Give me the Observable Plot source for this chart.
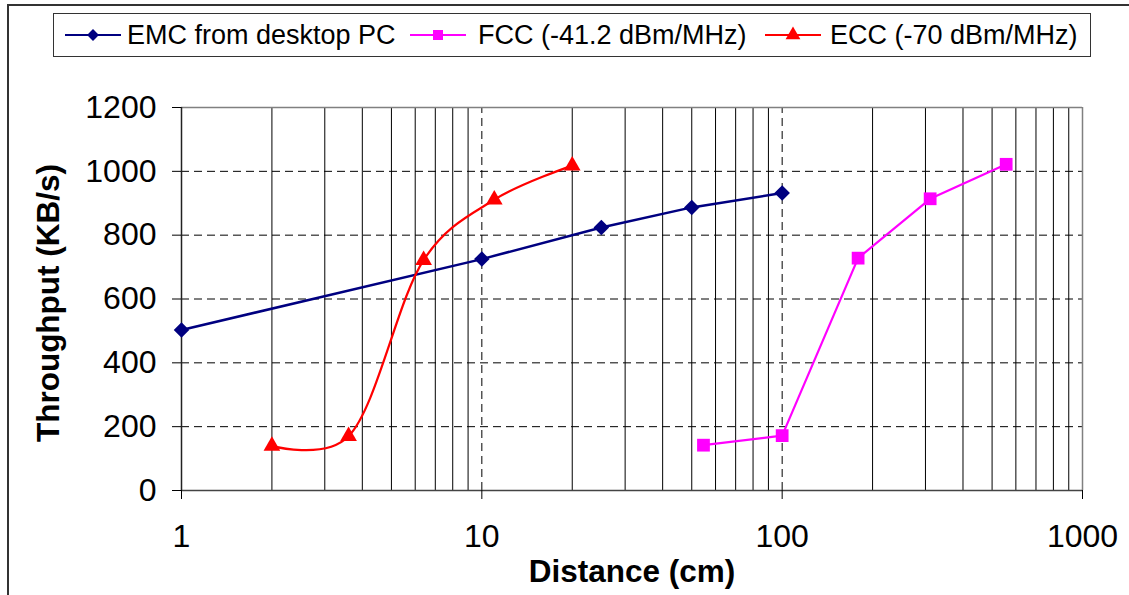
<!DOCTYPE html>
<html>
<head>
<meta charset="utf-8">
<script src="https://cdn.jsdelivr.net/npm/d3@7"></script>
<script src="https://cdn.jsdelivr.net/npm/@observablehq/plot@0.6"></script>
<style>
  html, body { margin: 0; padding: 0; background: #fff; overflow: hidden; }
  #wrap { position: relative; width: 1129px; height: 595px; font-family: "Liberation Sans", Arial, sans-serif; }
  #chart { position: absolute; left: 0; top: 0; }
  #border { position: absolute; left: 7px; top: 4px; width: 1200px; height: 700px; border-top: 2px solid #333; border-left: 2px solid #333; z-index: 2; pointer-events: none; }
  #legend { position: absolute; left: 53px; top: 13px; width: 1038px; height: 44px; border: 1px solid #333; background: #fff; z-index: 3; box-sizing: border-box; }
  .sw { position: absolute; }
  .lt { position: absolute; transform: translateY(-50%); font-size: 27px; white-space: nowrap; color: #000; line-height: 1; }
</style>
</head>
<body>
<div id="wrap">
  <div id="chart"></div>
  <div id="border"></div>
  <div id="legend"></div>
</div>
<script>
// ---- data ----
const seriesNames = ["EMC from desktop PC", "FCC (-41.2 dBm/MHz)", "ECC (-70 dBm/MHz)"];
const seriesColors = ["#000080", "#FF00FF", "#FF0000"];
const seriesSymbols = ["diamond2", "square", "triangle"];

const emcX = [1, 10, 25, 50, 100];
const emcY = [503, 725, 824, 887, 932];

const fccX = [54.7, 100, 179, 311, 557];
const fccY = [142, 172, 728, 914, 1022];

const eccX = [2, 3.6, 6.4, 11, 20];
const eccY = [140, 170, 722, 911, 1018];

const xTicks = [1, 10, 100, 1000];
const yTicks = [0, 200, 400, 600, 800, 1000, 1200];
const xMinor = [2, 3, 4, 5, 6, 7, 8, 9, 20, 30, 40, 50, 60, 70, 80, 90, 200, 300, 400, 500, 600, 700, 800, 900];
const xMajorInner = [10, 100];
const yGridInner = [200, 400, 600, 800, 1000];

const xLabel = "Distance (cm)";
const yLabel = "Throughput (KB/s)";

// ---- tables ----
const toRows = (xs, ys) => xs.map((x, i) => ({x, y: ys[i]}));
const emc = toRows(emcX, emcY);
const fcc = toRows(fccX, fccY);
const ecc = toRows(eccX, eccY);

const xDom = [xTicks[0], xTicks[xTicks.length - 1]];
const yDom = [yTicks[0], yTicks[yTicks.length - 1]];

const chart = Plot.plot({
  width: 1129,
  height: 595,
  marginLeft: 181,
  marginRight: 47,
  marginTop: 107,
  marginBottom: 105,
  style: {fontFamily: "'Liberation Sans', Arial, sans-serif", fontSize: "32px", color: "#000", background: "transparent", overflow: "visible"},
  x: {type: "log", domain: xDom},
  y: {domain: yDom},
  marks: [
    Plot.ruleX(xMinor, {y1: yDom[0], y2: yDom[1], stroke: "#000", strokeWidth: 1}),
    Plot.ruleX(xMajorInner, {y1: yDom[0], y2: yDom[1], stroke: "#000", strokeWidth: 1, strokeDasharray: "8,5"}),
    Plot.ruleY(yGridInner, {x1: xDom[0], x2: xDom[1], stroke: "#000", strokeWidth: 1, strokeDasharray: "8,5"}),
    Plot.ruleY([yDom[1]], {x1: xDom[0], x2: xDom[1], stroke: "#808080", strokeWidth: 1.5}),
    Plot.ruleX([xDom[1]], {y1: yDom[0], y2: yDom[1], stroke: "#808080", strokeWidth: 1.5}),
    Plot.ruleY([yDom[0]], {x1: xDom[0], x2: xDom[1], stroke: "#444", strokeWidth: 1.5}),
    Plot.ruleX([xDom[0]], {y1: yDom[0], y2: yDom[1], stroke: "#222", strokeWidth: 1.5}),
    Plot.axisX({ticks: xTicks, tickFormat: d => String(d), tickSize: 9, tickPadding: 25, label: null, fontSize: 32}),
    Plot.axisY({ticks: yTicks, tickFormat: d => String(d), tickSize: 9, tickPadding: 16, label: null, fontSize: 32}),
    Plot.line(emc, {x: "x", y: "y", stroke: seriesColors[0], strokeWidth: 2.5}),
    Plot.line(fcc, {x: "x", y: "y", stroke: seriesColors[1], strokeWidth: 2.2}),
    Plot.line(ecc, {x: "x", y: "y", stroke: seriesColors[2], strokeWidth: 2.2, curve: d3.curveCatmullRom.alpha(0.2)}),
    Plot.dot(emc, {x: "x", y: "y", symbol: seriesSymbols[0], r: 7, fill: seriesColors[0], stroke: "none"}),
    Plot.dot(fcc, {x: "x", y: "y", symbol: seriesSymbols[1], r: 7.2, fill: seriesColors[1], stroke: "none"}),
    Plot.dot(ecc, {x: "x", y: "y", symbol: seriesSymbols[2], r: 6.2, fill: seriesColors[2], stroke: "none"}),
    Plot.text([yLabel], {frameAnchor: "left", dx: -133, dy: 4, rotate: -90, textAnchor: "middle", lineAnchor: "middle", fontSize: 31.5, fontWeight: "bold", fill: "#000"}),
    Plot.text([xLabel], {frameAnchor: "bottom", dy: 81, textAnchor: "middle", lineAnchor: "middle", fontSize: 31.5, fontWeight: "bold", fill: "#000"})
  ]
});
document.getElementById("chart").appendChild(chart);

// ---- legend ----
const legend = document.getElementById("legend");
const legLeft = 53, legTop = 13, legMid = 35;
const swatchX = [65, 410, 765];
const textX = [127, 478, 830];
const symMap = {diamond2: d3.symbolDiamond2, square: d3.symbolSquare, triangle: d3.symbolTriangle};
const symSize = {diamond2: 90, square: 100, triangle: 95};
seriesNames.forEach((name, i) => {
  const w = 56;
  const svg = d3.create("svg").attr("width", w).attr("height", 20).attr("class", "sw")
    .style("left", (swatchX[i] - legLeft - 1) + "px").style("top", (legMid - 10 - legTop - 1) + "px");
  svg.append("line").attr("x1", 0).attr("x2", w).attr("y1", 10).attr("y2", 10)
    .attr("stroke", seriesColors[i]).attr("stroke-width", 2);
  svg.append("path").attr("transform", `translate(${w / 2},10)`)
    .attr("d", d3.symbol(symMap[seriesSymbols[i]], symSize[seriesSymbols[i]])())
    .attr("fill", seriesColors[i]);
  legend.appendChild(svg.node());
  const t = document.createElement("div");
  t.className = "lt";
  t.textContent = name;
  t.style.left = (textX[i] - legLeft - 1) + "px";
  t.style.top = (legMid - legTop - 1) + "px";
  legend.appendChild(t);
});
</script>
</body>
</html>
